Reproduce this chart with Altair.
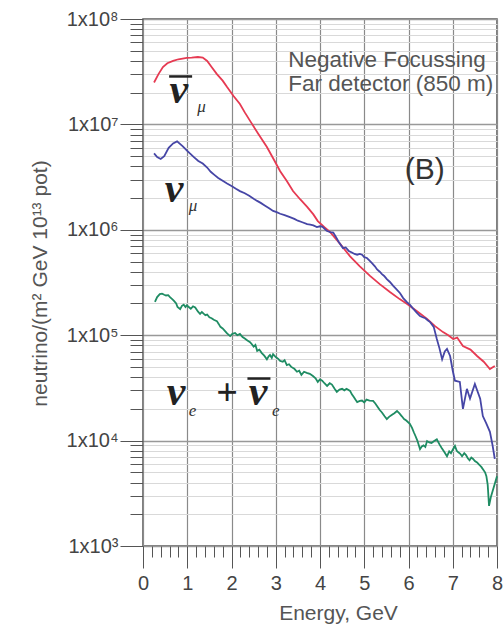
import altair as alt
import pandas as pd

# ---- data ----
red_x = [0.25,0.35,0.45,0.55,0.68,0.8,0.99,1.1,1.24,1.35,1.45,1.55,1.67,1.8,1.9,2.05,2.19,2.3,2.42,2.6,2.8,2.95,3.1,3.25,3.39,3.55,3.71,3.85,3.95,4.1,4.23,4.45,4.68,4.9,5.13,5.35,5.58,5.8,5.97,6.2,6.42,6.6,6.78,6.9,7.01,7.1,7.23,7.4,7.55,7.7,7.84,7.95]
red_y = [2.5e7,3.0e7,3.5e7,3.8e7,4.0e7,4.15e7,4.27e7,4.3e7,4.36e7,4.3e7,4.0e7,3.5e7,3.0e7,2.6e7,2.26e7,1.85e7,1.56e7,1.3e7,1.08e7,8.2e6,6.1e6,4.7e6,3.6e6,2.9e6,2.33e6,1.95e6,1.65e6,1.4e6,1.21e6,1.06e6,9.5e5,7.4e5,5.6e5,4.5e5,3.65e5,3.05e5,2.57e5,2.2e5,1.98e5,1.68e5,1.43e5,1.22e5,1.07e5,1.0e5,9.2e4,9.5e4,7.9e4,7.3e4,6.35e4,5.6e4,4.78e4,5.1e4]

blue_x = [0.25,0.32,0.4,0.48,0.58,0.68,0.77,0.9,1.0,1.06,1.15,1.25,1.35,1.45,1.53,1.62,1.7,1.81,1.9,2.0,2.1,2.19,2.3,2.4,2.5,2.58,2.66,2.75,2.85,2.94,3.02,3.1,3.2,3.32,3.42,3.5,3.6,3.71,3.78,3.85,3.93,4.0,4.05,4.15,4.23,4.3,4.35,4.42,4.52,4.58,4.65,4.72,4.78,4.84,4.9,4.95,5.0,5.06,5.12,5.18,5.24,5.29,5.35,5.4,5.45,5.51,5.58,5.65,5.72,5.81,5.88,5.97,6.03,6.1,6.18,6.26,6.32,6.38,6.44,6.49,6.57,6.64,6.7,6.76,6.82,6.87,6.94,7.0,7.05,7.16,7.23,7.32,7.39,7.5,7.62,7.68,7.76,7.84,7.9,7.95]
blue_y = [5.3e6,4.9e6,4.7e6,5.0e6,6.0e6,6.6e6,6.9e6,6.2e6,5.6e6,5.3e6,4.9e6,4.5e6,4.25e6,3.9e6,3.55e6,3.3e6,3.1e6,2.9e6,2.75e6,2.6e6,2.45e6,2.33e6,2.22e6,2.1e6,1.97e6,1.88e6,1.8e6,1.7e6,1.6e6,1.51e6,1.47e6,1.42e6,1.38e6,1.32e6,1.27e6,1.22e6,1.18e6,1.13e6,1.12e6,1.1e6,1.06e6,1.08e6,1.07e6,9.8e5,9.5e5,9.4e5,8.7e5,7.7e5,6.7e5,6.8e5,6.3e5,6.1e5,5.9e5,5.8e5,5.9e5,5.8e5,5.5e5,5.4e5,5.1e5,4.8e5,4.5e5,4.2e5,4.0e5,3.8e5,3.65e5,3.4e5,3.2e5,2.95e5,2.75e5,2.5e5,2.25e5,2.05e5,1.95e5,1.8e5,1.65e5,1.52e5,1.48e5,1.45e5,1.38e5,1.33e5,1.2e5,9.2e4,7.5e4,5.9e4,7.0e4,7.4e4,6.35e4,4.6e4,3.7e4,3.6e4,2.0e4,3.1e4,2.5e4,3.45e4,2.5e4,1.71e4,1.45e4,1.21e4,9.0e3,6.7e3]

green_x = [0.27,0.32,0.38,0.43,0.48,0.52,0.57,0.61,0.66,0.7,0.75,0.78,0.84,0.88,0.92,0.96,0.99,1.04,1.08,1.13,1.18,1.24,1.29,1.33,1.37,1.41,1.45,1.5,1.55,1.6,1.67,1.71,1.75,1.8,1.85,1.9,1.97,2.02,2.08,2.13,2.19,2.25,2.3,2.36,2.42,2.46,2.5,2.54,2.58,2.63,2.68,2.74,2.8,2.84,2.87,2.91,2.94,3.0,3.05,3.1,3.16,3.2,3.25,3.3,3.35,3.42,3.48,3.53,3.58,3.64,3.7,3.77,3.84,3.9,3.95,4.0,4.05,4.1,4.16,4.22,4.27,4.33,4.38,4.44,4.5,4.55,4.6,4.68,4.72,4.76,4.8,4.84,4.9,4.95,5.0,5.05,5.12,5.2,5.25,5.3,5.35,5.4,5.46,5.51,5.56,5.62,5.68,5.74,5.8,5.85,5.9,5.95,6.03,6.08,6.12,6.16,6.2,6.26,6.3,6.34,6.38,6.42,6.47,6.52,6.58,6.64,6.7,6.75,6.81,6.87,6.92,6.96,7.0,7.05,7.09,7.12,7.17,7.21,7.26,7.3,7.34,7.38,7.42,7.46,7.5,7.55,7.6,7.65,7.69,7.73,7.76,7.79,7.82,7.86,7.9,7.95,8.0]
green_y = [2.07e5,2.3e5,2.45e5,2.48e5,2.42e5,2.38e5,2.4e5,2.3e5,2.2e5,2.12e5,2.0e5,1.85e5,1.77e5,1.9e5,1.95e5,1.85e5,1.92e5,1.84e5,1.78e5,1.88e5,1.83e5,1.68e5,1.59e5,1.66e5,1.6e5,1.55e5,1.57e5,1.48e5,1.45e5,1.4e5,1.36e5,1.28e5,1.2e5,1.16e5,1.1e5,1.04e5,9.8e4,1.03e5,1.05e5,1.0e5,1.03e5,9.6e4,9.3e4,8.9e4,8.6e4,8.2e4,7.8e4,8.1e4,7.1e4,7.3e4,6.8e4,6.4e4,5.9e4,6.3e4,6.5e4,6.1e4,6.6e4,6.2e4,6.0e4,5.7e4,5.6e4,5.8e4,5.2e4,5.3e4,5.0e4,4.8e4,4.5e4,4.6e4,4.2e4,4.5e4,4.4e4,4.3e4,4.1e4,3.9e4,3.6e4,3.8e4,3.7e4,3.5e4,3.3e4,3.5e4,3.4e4,3.1e4,2.9e4,3.05e4,3.1e4,3.0e4,3.1e4,2.96e4,2.75e4,2.6e4,2.45e4,2.32e4,2.38e4,2.4e4,2.3e4,2.45e4,2.4e4,2.38e4,2.25e4,2.1e4,1.95e4,1.85e4,1.7e4,1.6e4,1.68e4,1.75e4,1.82e4,1.91e4,1.8e4,1.7e4,1.6e4,1.55e4,1.44e4,1.32e4,1.2e4,1.1e4,1.0e4,8.3e3,8.8e3,9.0e3,8.7e3,9.9e3,9.6e3,9.5e3,9.9e3,1.03e4,9.2e3,8.5e3,7.8e3,7.1e3,7.9e3,7.6e3,8.2e3,8.9e3,8.0e3,7.8e3,7.5e3,7.1e3,7.6e3,7.3e3,6.8e3,6.5e3,6.9e3,6.7e3,6.4e3,6.2e3,5.9e3,5.6e3,5.3e3,5.0e3,4.6e3,3.8e3,2.4e3,2.9e3,3.3e3,3.9e3,4.6e3]

series_names = ["anti_numu", "numu", "nue"]
series_colors = ["#e63a52", "#4646a6", "#1f8c63"]

x_ticks = [round(i * 0.2, 1) for i in range(41)]
decades = [1e3, 1e4, 1e5, 1e6, 1e7, 1e8]
y_ticks = decades + [m * d for d in decades[:-1] for m in range(2, 10)]

# annotations (data coordinates)
nu_text = ["ν", "ν", "ν", "ν"]
nu_x = [0.81, 0.70, 0.75, 2.60]
nu_y = [1.61e7, 1.85e6, 2.2e4, 2.2e4]
sub_text = ["μ", "μ", "e", "e"]
sub_x = [1.32, 1.13, 1.12, 3.0]
sub_y = [1.3e7, 1.52e6, 1.73e4, 1.73e4]
bar_x1 = [0.59, 2.36]
bar_x2 = [1.11, 2.88]
bar_y = [2.85e7, 3.88e4]
note_text = ["Negative Focussing", "Far detector (850 m)"]
note_x = [3.28, 3.28]
note_y = [4.04e7, 2.44e7]

rows = []
for name, xs, ys in zip(series_names, [red_x, blue_x, green_x], [red_y, blue_y, green_y]):
    rows += [{"series": name, "E": a, "flux": b} for a, b in zip(xs, ys)]
df = pd.DataFrame(rows)

df_nu = pd.DataFrame({"E": nu_x, "flux": nu_y, "t": nu_text})
df_sub = pd.DataFrame({"E": sub_x, "flux": sub_y, "t": sub_text})
df_bar = pd.DataFrame({"E": bar_x1, "E2": bar_x2, "flux": bar_y})
df_note = pd.DataFrame({"E": note_x, "flux": note_y, "t": note_text})
df_plus = pd.DataFrame({"E": [1.90], "flux": [2.2e4], "t": ["+"]})
df_b = pd.DataFrame({"E": [6.37], "flux": [3.73e6], "t": ["(B)"]})

x_major = "abs(datum.value - round(datum.value)) < 0.001"
y_major = "abs(log(datum.value)/LN10 - round(log(datum.value)/LN10)) < 0.001"
exp_expr = "round(log(datum.value)/LN10)"

x_axis = alt.Axis(
    values=x_ticks,
    title="Energy, GeV",
    titleFont="Liberation Sans", titleFontSize=21, titleFontWeight="normal", titleColor="#555",
    titleX=195, titleY=67, titleAlign="center", titleBaseline="middle",
    labelExpr=f"{x_major} ? format(datum.value, 'd') : ''",
    labelFont="Liberation Sans", labelFontSize=20, labelColor="#444", labelPadding=5,
    labelFlush=False, labelOverlap=False,
    tickSize={"condition": {"test": x_major, "value": 22}, "value": 11},
    tickColor="#555", tickWidth=1,
    domain=False,
    grid=True,
    gridColor="#8a8a8a",
    gridOpacity={"condition": {"test": x_major, "value": 1}, "value": 0},
    gridWidth=1.2,
)

y_axis = alt.Axis(
    values=y_ticks,
    title="neutrino/(m² GeV 10¹³ pot)",
    titleFont="Liberation Sans", titleFontSize=21, titleFontWeight="normal", titleColor="#555",
    titleAngle=270, titleX=-103, titleY=264, titleAlign="center", titleBaseline="middle",
    labelExpr=f"{y_major} ? '1x10' + substring('⁰¹²³⁴⁵⁶⁷⁸⁹', {exp_expr}, {exp_expr} + 1) : ''",
    labelFont="Liberation Sans", labelFontSize=20, labelColor="#444", labelPadding=2,
    labelOverlap=False, labelFlush=False,
    tickSize={"condition": {"test": y_major, "value": 23}, "value": 13},
    tickColor="#555", tickWidth=1,
    domain=False,
    grid=True,
    gridColor={"condition": {"test": y_major, "value": "#999999"}, "value": "#d9d9d9"},
    gridWidth={"condition": {"test": y_major, "value": 1.6}, "value": 1},
)

xenc = alt.X("E:Q", scale=alt.Scale(domain=[0, 8], nice=False, zero=False), axis=x_axis)
yenc = alt.Y("flux:Q", scale=alt.Scale(type="log", domain=[1e3, 1e8], nice=False), axis=y_axis)

lines = alt.Chart(df).mark_line(strokeWidth=1.8, interpolate="linear").encode(
    x=xenc, y=yenc,
    color=alt.Color("series:N", scale=alt.Scale(domain=series_names, range=series_colors), legend=None),
)

nu = alt.Chart(df_nu).mark_text(font="Liberation Serif", fontSize=42, fontStyle="italic",
                                fontWeight="bold", align="center", baseline="alphabetic",
                                color="#222").encode(x=xenc, y=yenc, text="t:N")
subs = alt.Chart(df_sub).mark_text(font="Liberation Serif", fontSize=17, fontStyle="italic",
                                   align="center", baseline="alphabetic",
                                   color="#333").encode(x=xenc, y=yenc, text="t:N")
plus = alt.Chart(df_plus).mark_text(font="Liberation Serif", fontSize=38, fontWeight="bold",
                                    align="center", baseline="alphabetic",
                                    color="#222").encode(x=xenc, y=yenc, text="t:N")
bars = alt.Chart(df_bar).mark_rule(strokeWidth=2.5, color="#222").encode(
    x=xenc, x2="E2:Q", y=yenc)
notes = alt.Chart(df_note).mark_text(font="Liberation Sans", fontSize=22.5, align="left",
                                     baseline="middle", color="#555").encode(x=xenc, y=yenc, text="t:N")
blabel = alt.Chart(df_b).mark_text(font="Liberation Sans", fontSize=30, align="center",
                                   baseline="middle", color="#333").encode(x=xenc, y=yenc, text="t:N")

chart = alt.layer(lines, nu, subs, plus, bars, notes, blabel).properties(
    width=354, height=527,
    autosize=alt.AutoSizeParams(type="none"),
    padding={"left": 143, "top": 19, "right": 7, "bottom": 85},
    background="white",
).configure_view(stroke="#555", strokeWidth=1.5)

chart.save("out.html", embed_options={"renderer": "svg", "actions": False})
